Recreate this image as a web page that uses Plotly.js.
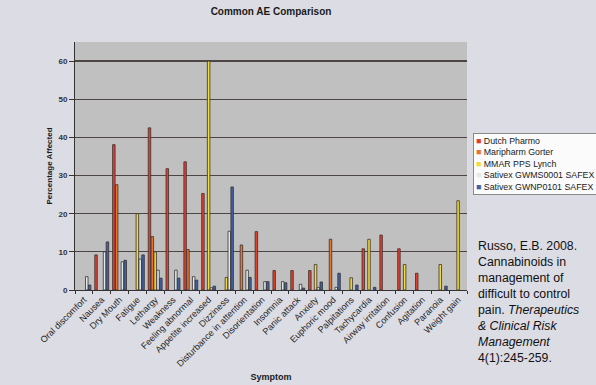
<!DOCTYPE html>
<html>
<head>
<meta charset="utf-8">
<script src="https://cdn.plot.ly/plotly-3.0.1.min.js"></script>
<style>html,body{margin:0;padding:0;background:#dcdce4;}#chart{width:596px;height:385px;}</style>
</head>
<body>
<div id="chart"></div>
<script>
const categories = ["Oral discomfort","Nausea","Dry Mouth","Fatigue","Lethargy","Weakness","Feeling abnormal","Appetite increased","Dizziness","Disturbance in attention","Disorientation","Insomnia","Panic attack","Anxiety","Euphoric mood","Palpitations","Tachycardia","Airway irritation","Confusion","Agitation","Paranoia","Weight gain"];

const dutchPharmo     = [null, 9.2, 38.1, null, 42.5, 31.8, 33.6, 25.3, null, null, 15.3, 5.1, 5.1, 5.1, null, null, 10.8, 14.4, 10.8, 4.4, null, null];
const maripharmGorter = [null, null, 27.6, null, 14.0, null, 10.6, null, null, 11.8, null, null, null, null, 13.3, null, null, null, null, null, null, null];
const mmarLynch       = [null, null, null, 20.0, 10.0, null, null, 60.0, 3.3, null, null, null, null, 6.7, null, 3.2, 13.3, null, 6.7, null, 6.7, 23.4];
const gwms0001        = [3.5, 10.0, 7.4, 8.1, 5.2, 5.2, 3.5, 0.6, 15.4, 5.2, 2.2, 2.2, 1.5, 0.7, 0.7, null, null, null, null, null, null, null];
const gwnp0101        = [1.3, 12.6, 7.8, 9.2, 3.1, 3.1, 2.6, 1.0, 27.0, 3.3, 2.2, 1.9, 0.5, 2.1, 4.4, 1.3, 0.7, null, null, null, 1.0, null];

const seriesNames  = ["Dutch Pharmo","Maripharm Gorter","MMAR PPS Lynch","Sativex GWMS0001 SAFEX","Sativex GWNP0101 SAFEX"];
const seriesValues = [dutchPharmo, maripharmGorter, mmarLynch, gwms0001, gwnp0101];
const seriesColors = ["#e63d2a","#e8742c","#f3dc35","#e2eaec","#3b64a6"];

const yTicks = [0,10,20,30,40,50,60];

const traces = seriesNames.map((name, i) => ({
  type: 'bar',
  name: name,
  x: categories,
  y: seriesValues[i],
  marker: {color: seriesColors[i], line: {color: '#3a3030', width: 0.8}},
  showlegend: false
}));

const legendText = seriesNames.map((n, i) =>
  "<span style='color:" + seriesColors[i] + "'>■</span> " + n).join("<br>");

const layout = {
  width: 596, height: 385,
  paper_bgcolor: '#dcdce4',
  plot_bgcolor: '#c0c0c0',
  font: {family: 'Liberation Sans, Arial, sans-serif', color: '#1a1a1a'},
  margin: {l: 75, r: 129, t: 42, b: 95},
  barmode: 'group',
  bargap: 0.2,
  bargroupgap: 0.12,
  title: {text: 'Common AE Comparison', x: 0.5, xref: 'paper', y: 0.971, yref: 'container', yanchor: 'middle',
          font: {size: 10, weight: 'bold', color: '#1a1a1a'}},
  xaxis: {
    type: 'category',
    tickangle: -45,
    tickfont: {size: 9, color: '#1e1e1e'},
    ticks: 'outside', ticklen: 3, tickcolor: '#333', tickson: 'boundaries',
    showline: true, linecolor: '#333', linewidth: 1,
    showgrid: false,
    automargin: false,
    title: {text: 'Symptom', font: {size: 9, weight: 'bold', color: '#1a1a1a'}, standoff: 5}
  },
  yaxis: {
    range: [0, 65],
    tickvals: yTicks,
    ticktext: yTicks.map(String),
    tickfont: {size: 8, weight: 'bold', color: '#333'},
    ticks: 'outside', ticklen: 5, tickcolor: '#333',
    showline: true, linecolor: '#333', linewidth: 1,
    gridcolor: '#4d4444', gridwidth: 1.2,
    zeroline: false,
    automargin: false,
    title: {text: 'Percentage Affected', font: {size: 8, weight: 'bold', color: '#1a1a1a'}, standoff: 4}
  },
  annotations: [
    {
      xref: 'paper', yref: 'paper', x: 1.016, y: 0.633, xanchor: 'left', yanchor: 'top',
      align: 'left', showarrow: false, text: legendText,
      font: {size: 8.8, color: '#1a1a1a'},
      bgcolor: '#fbfbfb', bordercolor: '#8a8a8a', borderwidth: 1, borderpad: 2
    },
    {
      xref: 'paper', yref: 'paper', x: 1.024, y: 0.215, xanchor: 'left', yanchor: 'top',
      align: 'left', showarrow: false,
      text: "Russo, E.B. 2008.<br>Cannabinoids in<br>management of<br>difficult to control<br>pain. <i>Therapeutics</i><br><i>&amp; Clinical Risk</i><br><i>Management</i><br>4(1):245-259.",
      font: {size: 12.3, color: '#111'}
    }
  ]
};

Plotly.newPlot('chart', traces, layout, {displayModeBar: false, staticPlot: true});
</script>
</body>
</html>
